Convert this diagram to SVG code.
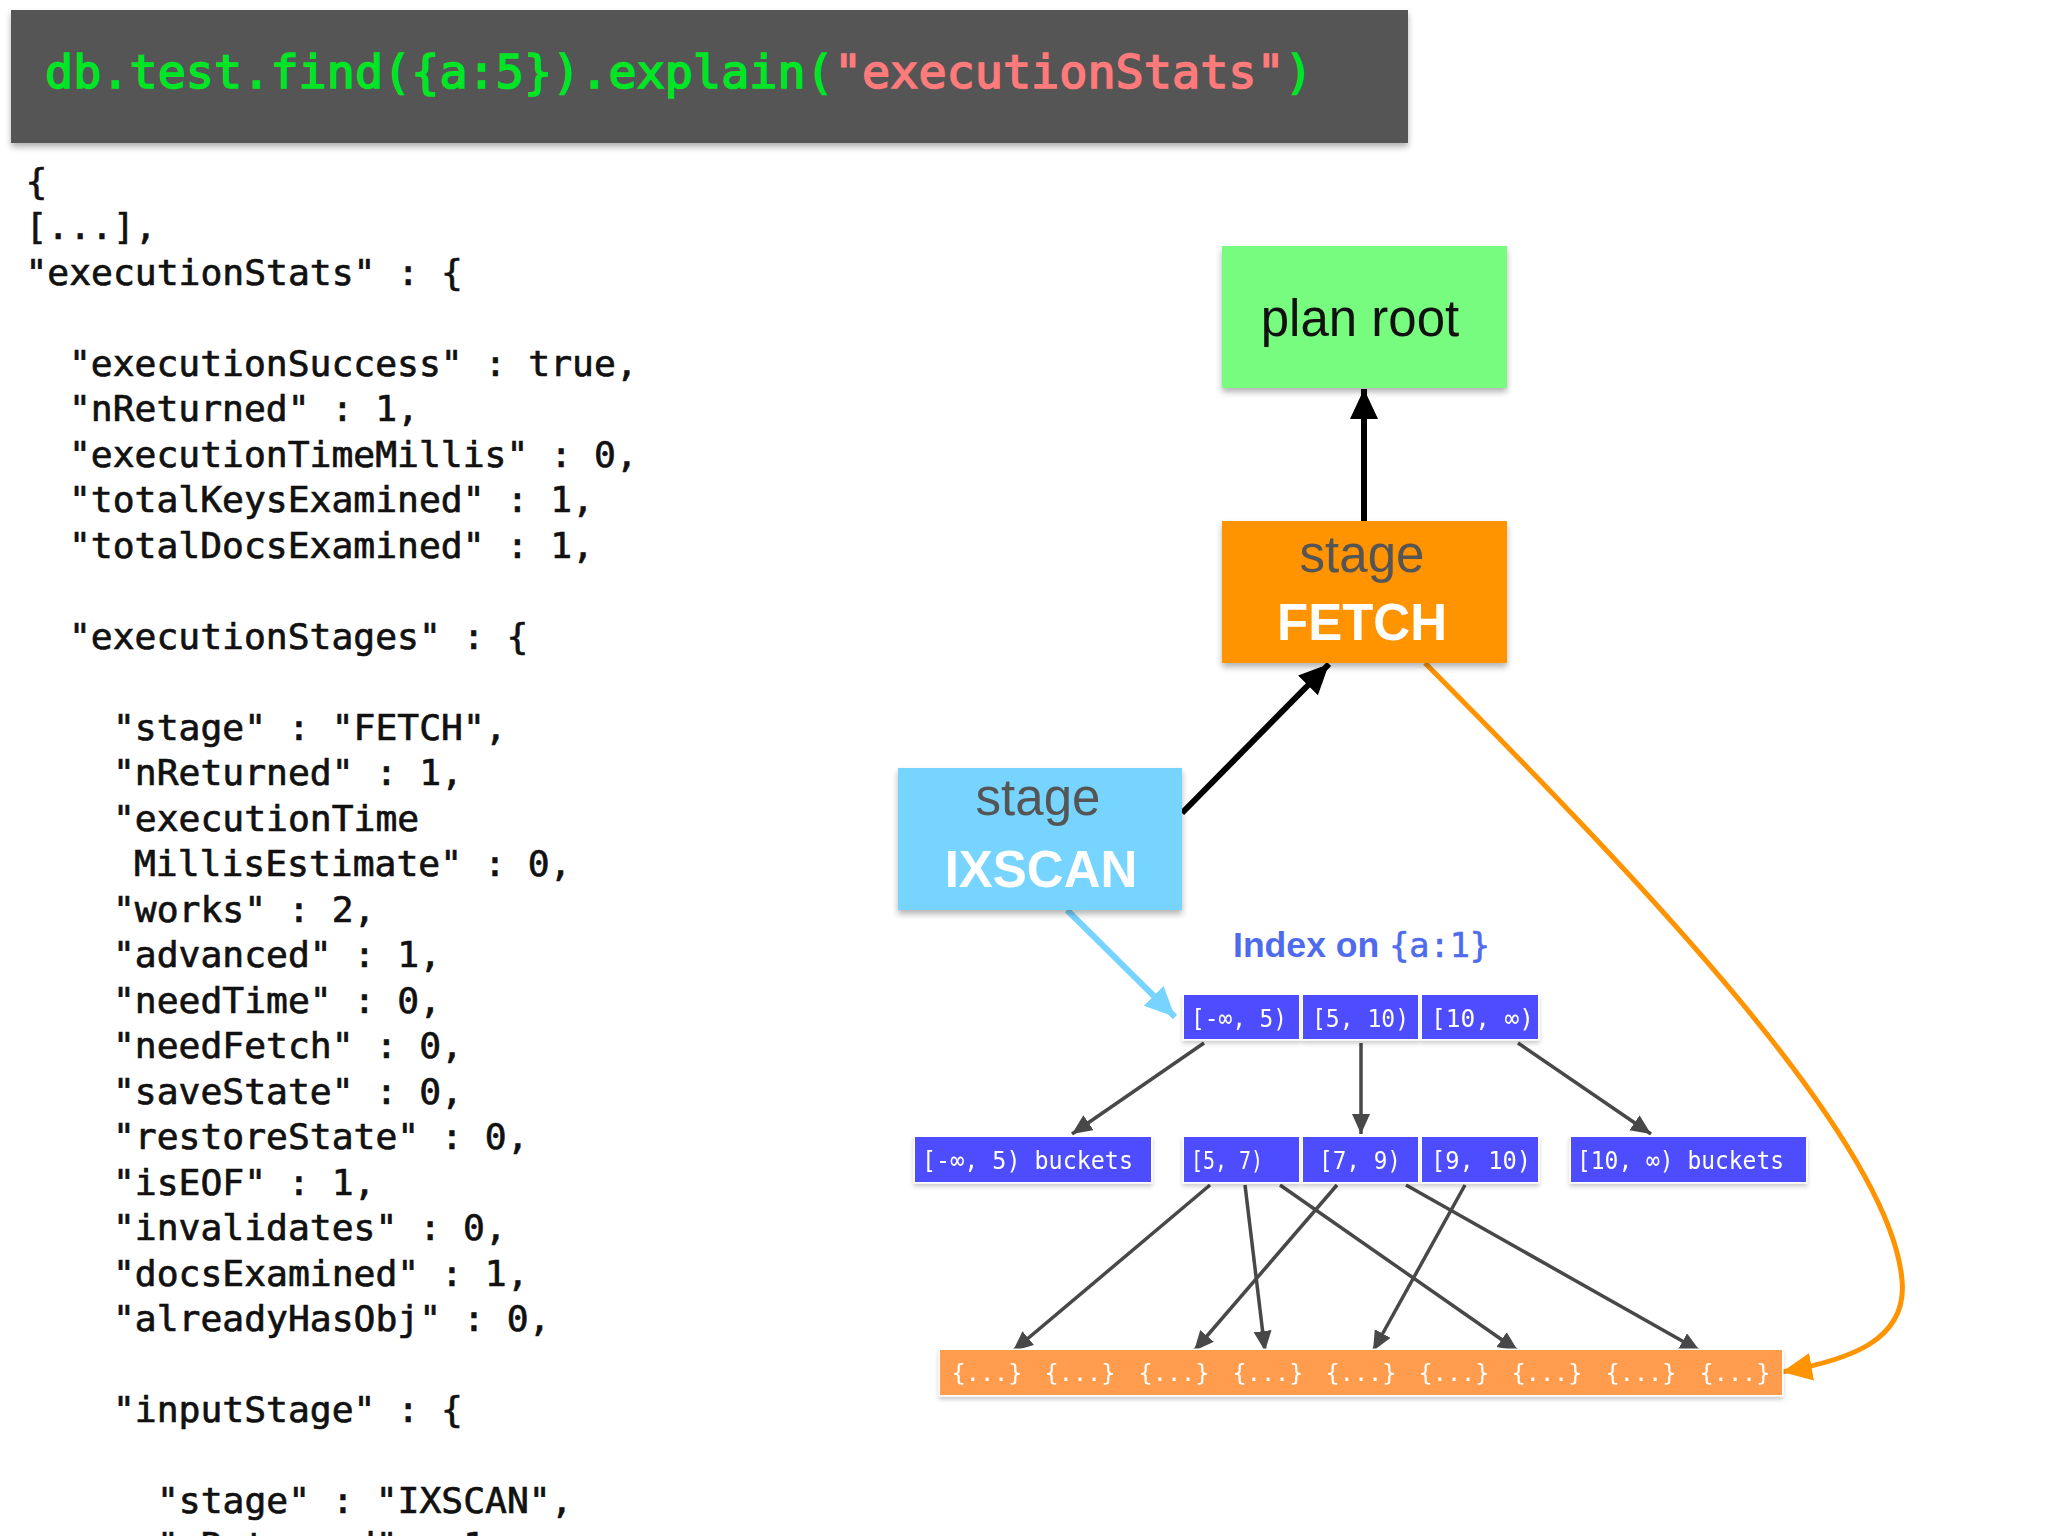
<svg xmlns="http://www.w3.org/2000/svg" width="2048" height="1536" viewBox="0 0 2048 1536">
<style>
.code{font-family:"DejaVu Sans Mono",monospace;font-size:36.35px;fill:#111;stroke:#111;stroke-width:.7px}
.head{font-family:"DejaVu Sans Mono",monospace;font-size:46.8px;stroke-width:1.6px}
.lab{font-family:"Liberation Sans",Arial,sans-serif;font-size:51px;text-anchor:middle}
.b{font-weight:bold;fill:#fff}
.g{fill:#555}
.cell{font-family:"DejaVu Sans Mono",monospace;font-size:25.5px;fill:#fff}
.doc{font-family:"DejaVu Sans Mono",monospace;font-size:23.6px;fill:#fff;text-anchor:middle}
.bx{fill:#4d4dff}
.gl{stroke:#484848;stroke-width:3.5;fill:none;marker-end:url(#ag)}
</style>
<defs>
<filter id="sh" x="-5%" y="-10%" width="110%" height="125%"><feDropShadow dx="0" dy="4" stdDeviation="3" flood-color="#000" flood-opacity=".3"/></filter>
<filter id="sl" x="-5%" y="-10%" width="110%" height="130%"><feDropShadow dx="0" dy="3" stdDeviation="2" flood-color="#000" flood-opacity=".2"/></filter>
<marker id="ag" markerUnits="userSpaceOnUse" markerWidth="22" markerHeight="20" refX="20" refY="9" orient="auto"><path d="M0 0L20 9L0 18Z" fill="#484848"/></marker>
<marker id="ak" markerUnits="userSpaceOnUse" markerWidth="32" markerHeight="30" refX="30" refY="14" orient="auto"><path d="M0 0L30 14L0 28Z" fill="#000"/></marker>
<marker id="ab" markerUnits="userSpaceOnUse" markerWidth="32" markerHeight="30" refX="30" refY="14" orient="auto"><path d="M0 0L30 14L0 28Z" fill="#77d4ff"/></marker>
<marker id="ao" markerUnits="userSpaceOnUse" markerWidth="32" markerHeight="30" refX="30" refY="14" orient="auto"><path d="M0 0L30 14L0 28Z" fill="#ff9300"/></marker>
</defs>
<rect width="2048" height="1536" fill="#fff"/>
<g id="connectors">
<path d="M1364 521V389" stroke="#000" stroke-width="6" fill="none" marker-end="url(#ak)"/>
<path d="M1182 813L1329 664" stroke="#000" stroke-width="6" fill="none" marker-end="url(#ak)"/>
<path d="M1067 910L1175 1017" stroke="#77d4ff" stroke-width="6" fill="none" marker-end="url(#ab)"/>
<path d="M1425 663C1640 880 1890 1140 1902 1280C1908 1340 1850 1360 1782 1372" stroke="#ff9300" stroke-width="5" fill="none" marker-end="url(#ao)"/>
<path class="gl" d="M1204 1043L1072 1134"/>
<path class="gl" d="M1361 1043V1134"/>
<path class="gl" d="M1518 1043L1651 1134"/>
<path class="gl" d="M1210 1185L1013 1351"/>
<path class="gl" d="M1245 1185L1265 1351"/>
<path class="gl" d="M1280 1185L1518 1351"/>
<path class="gl" d="M1337 1185L1194 1351"/>
<path class="gl" d="M1406 1185L1700 1351"/>
<path class="gl" d="M1465 1185L1373 1351"/>
</g>
<g id="header">
<rect x="11" y="10" width="1397" height="133" fill="#555" filter="url(#sh)"/>
<text class="head" x="45" y="88"><tspan fill="#00e626" stroke="#00e626">db.test.find({a:5}).explain(</tspan><tspan fill="#ff7a7a" stroke="#ff7a7a">"executionStats"</tspan><tspan fill="#00e626" stroke="#00e626">)</tspan></text>
</g>
<g id="code">
<text class="code" x="25.5" y="194">{</text>
<text class="code" x="25.5" y="239">[...],</text>
<text class="code" x="25.5" y="285">"executionStats" : {</text>
<text class="code" x="69" y="376">"executionSuccess" : true,</text>
<text class="code" x="69" y="421">"nReturned" : 1,</text>
<text class="code" x="69" y="467">"executionTimeMillis" : 0,</text>
<text class="code" x="69" y="512">"totalKeysExamined" : 1,</text>
<text class="code" x="69" y="558">"totalDocsExamined" : 1,</text>
<text class="code" x="69" y="649">"executionStages" : {</text>
<text class="code" x="113" y="740">"stage" : "FETCH",</text>
<text class="code" x="113" y="785">"nReturned" : 1,</text>
<text class="code" x="113" y="831">"executionTime</text>
<text class="code" x="134" y="876">MillisEstimate" : 0,</text>
<text class="code" x="113" y="922">"works" : 2,</text>
<text class="code" x="113" y="967">"advanced" : 1,</text>
<text class="code" x="113" y="1013">"needTime" : 0,</text>
<text class="code" x="113" y="1058">"needFetch" : 0,</text>
<text class="code" x="113" y="1104">"saveState" : 0,</text>
<text class="code" x="113" y="1149">"restoreState" : 0,</text>
<text class="code" x="113" y="1195">"isEOF" : 1,</text>
<text class="code" x="113" y="1240">"invalidates" : 0,</text>
<text class="code" x="113" y="1286">"docsExamined" : 1,</text>
<text class="code" x="113" y="1331">"alreadyHasObj" : 0,</text>
<text class="code" x="113" y="1422">"inputStage" : {</text>
<text class="code" x="157" y="1513">"stage" : "IXSCAN",</text>
<text class="code" x="157" y="1558">"nReturned" : 1,</text>
</g>
<g id="plan-root">
<rect x="1222" y="246" width="285" height="142" fill="#77fc7f" filter="url(#sh)"/>
<text class="lab" x="1360" y="336" fill="#111">plan root</text>
</g>
<g id="fetch">
<rect x="1222" y="521" width="285" height="142" fill="#ff9300" filter="url(#sh)"/>
<text class="lab g" x="1362" y="572">stage</text>
<text class="lab b" x="1362" y="640">FETCH</text>
</g>
<g id="ixscan">
<rect x="898" y="768" width="284" height="142" fill="#77d4ff" filter="url(#sh)"/>
<text class="lab g" x="1038" y="815">stage</text>
<text class="lab b" x="1041" y="887">IXSCAN</text>
</g>
<g id="index-label">
<text x="1233" y="957" font-family="'Liberation Sans',sans-serif" font-size="35.6px" font-weight="bold" fill="#4f6bed">Index on <tspan font-family="'DejaVu Sans Mono',monospace" font-weight="normal" font-size="33.5px" stroke="#4f6bed" stroke-width=".6">{a:1}</tspan></text>
</g>
<g id="root-buckets" filter="url(#sl)">
<rect class="bx" x="1184" y="995" width="115" height="44" stroke="#fff" stroke-width="3" paint-order="stroke"/>
<rect class="bx" x="1303" y="995" width="115" height="44" stroke="#fff" stroke-width="3" paint-order="stroke"/>
<rect class="bx" x="1422" y="995" width="116" height="44" stroke="#fff" stroke-width="3" paint-order="stroke"/>
<text class="cell" x="1191" y="1027" textLength="96" lengthAdjust="spacingAndGlyphs">[-∞, 5)</text>
<text class="cell" x="1312" y="1027" textLength="97" lengthAdjust="spacingAndGlyphs">[5, 10)</text>
<text class="cell" x="1431" y="1027" textLength="103" lengthAdjust="spacingAndGlyphs">[10, ∞)</text>
</g>
<g id="bucket-low" filter="url(#sl)">
<rect class="bx" x="915" y="1137" width="236" height="45" stroke="#fff" stroke-width="3" paint-order="stroke"/>
<text class="cell" x="922" y="1169" textLength="211" lengthAdjust="spacingAndGlyphs">[-∞, 5) buckets</text>
</g>
<g id="bucket-mid" filter="url(#sl)">
<rect class="bx" x="1184" y="1137" width="115" height="45" stroke="#fff" stroke-width="3" paint-order="stroke"/>
<rect class="bx" x="1303" y="1137" width="115" height="45" stroke="#fff" stroke-width="3" paint-order="stroke"/>
<rect class="bx" x="1422" y="1137" width="116" height="45" stroke="#fff" stroke-width="3" paint-order="stroke"/>
<text class="cell" x="1191" y="1169" textLength="72" lengthAdjust="spacingAndGlyphs">[5, 7)</text>
<text class="cell" x="1319" y="1169" textLength="82" lengthAdjust="spacingAndGlyphs">[7, 9)</text>
<text class="cell" x="1431" y="1169" textLength="100" lengthAdjust="spacingAndGlyphs">[9, 10)</text>
</g>
<g id="bucket-high" filter="url(#sl)">
<rect class="bx" x="1571" y="1137" width="235" height="45" stroke="#fff" stroke-width="3" paint-order="stroke"/>
<text class="cell" x="1577" y="1169" textLength="207" lengthAdjust="spacingAndGlyphs">[10, ∞) buckets</text>
</g>
<g id="documents" filter="url(#sl)">
<rect x="940" y="1350" width="842" height="45" fill="#ff9c4d" stroke="#fff" stroke-width="3" paint-order="stroke"/>
<text class="doc" x="987" y="1381">{...}</text>
<text class="doc" x="1080" y="1381">{...}</text>
<text class="doc" x="1174" y="1381">{...}</text>
<text class="doc" x="1268" y="1381">{...}</text>
<text class="doc" x="1361" y="1381">{...}</text>
<text class="doc" x="1454" y="1381">{...}</text>
<text class="doc" x="1547" y="1381">{...}</text>
<text class="doc" x="1641" y="1381">{...}</text>
<text class="doc" x="1735" y="1381">{...}</text>
</g>
</svg>
